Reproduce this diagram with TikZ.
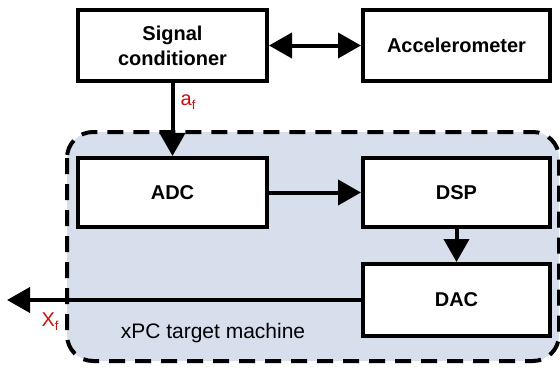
\documentclass[tikz,border=0pt]{standalone}
\usepackage{fontspec}
\setmainfont{Liberation Sans}
\usetikzlibrary{arrows.meta}
\definecolor{regionfill}{RGB}{215,222,236}
\definecolor{labelred}{RGB}{200,16,16}
\tikzset{
  blockbox/.style={draw=black, line width=4pt, fill=white, rectangle, inner sep=0pt,
    font=\fontsize{20}{25}\selectfont\bfseries, align=center},
  conn/.style={line width=4pt, -{Triangle[length=23pt,width=25pt]}},
  biconn/.style={line width=4pt, {Triangle[length=23pt,width=25pt]}-{Triangle[length=23pt,width=25pt]}},
  sig/.style={text=labelred, font=\fontsize{20}{24}\selectfont, inner sep=0pt},
  region/.style={draw=black, line width=4pt, fill=regionfill, dash pattern=on 16pt off 10pt, rounded corners=26pt}
}
\newcommand{\subf}{\raisebox{-4pt}{\fontsize{13}{13}\selectfont f}}
\begin{document}
\begin{tikzpicture}[x=1pt,y=-1pt]
\useasboundingbox (0,0) rectangle (560,368);
\draw[region] (67,132) rectangle (559,361);
\node[blockbox, minimum width=189pt, minimum height=71pt] (sc) at (172.5,45.5) {Signal\\conditioner};
\node[blockbox, minimum width=187pt, minimum height=71pt] (acc) at (456.5,45.5) {Accelerometer};
\node[blockbox, minimum width=189pt, minimum height=69pt] (adc) at (172.5,192.5) {ADC};
\node[blockbox, minimum width=187pt, minimum height=69pt] (dsp) at (456.5,192.5) {DSP};
\node[blockbox, minimum width=187pt, minimum height=72pt] (dac) at (456.5,300) {DAC};
\coordinate (out) at (7,300);
\draw[biconn] (sc.east) -- (acc.west);
\draw[conn] (sc.south) -- (adc.north);
\draw[conn] (adc.east) -- (dsp.west);
\draw[conn] (dsp.south) -- (dac.north);
\draw[conn] (dac.west) -- (out);
\node[sig] (af) at (188,102) {a\subf};
\node[sig] (xf) at (50,322) {X\subf};
\node[font=\fontsize{21}{25}\selectfont, inner sep=0pt] (lbl) at (213,333) {xPC target machine};
\end{tikzpicture}
\end{document}
